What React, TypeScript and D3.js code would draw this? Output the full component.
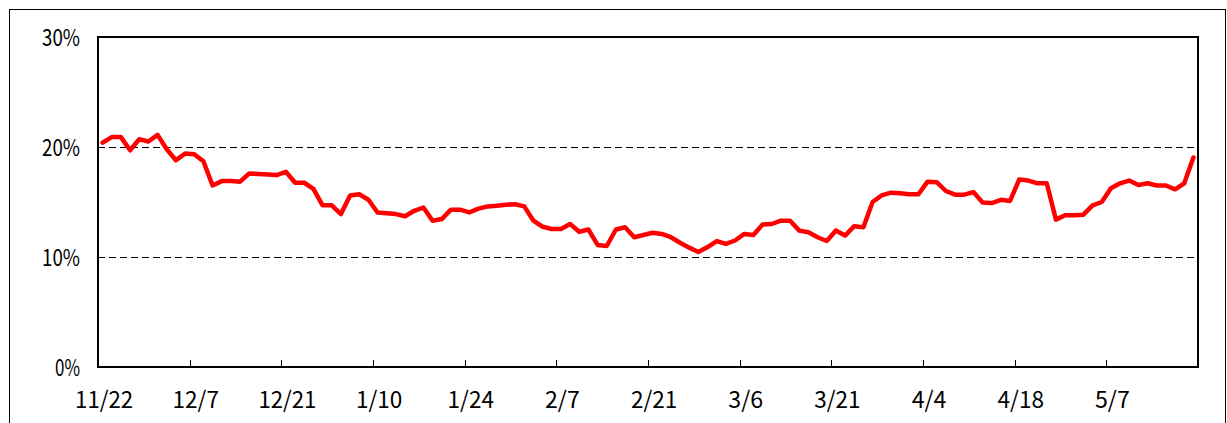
import { useEffect, useRef } from 'react'
import * as d3 from 'd3'

const WIDTH = 1227
const HEIGHT = 423
const PLOT = { left: 98, right: 1198, top: 37, bottom: 367 }

// share values (%), one per trading day, 120 points
const shareValues = [
  20.4, 20.9, 20.9, 19.7, 20.7, 20.5, 21.1, 19.8, 18.8, 19.4,
  19.35, 18.7, 16.5, 16.9, 16.9, 16.85, 17.6, 17.55, 17.5, 17.45,
  17.75, 16.75, 16.75, 16.2, 14.7, 14.7, 13.9, 15.6, 15.7, 15.2,
  14.05, 13.97, 13.9, 13.7, 14.2, 14.5, 13.3, 13.45, 14.3, 14.3,
  14.05, 14.4, 14.6, 14.65, 14.75, 14.8, 14.6, 13.3, 12.75, 12.55,
  12.55, 13.0, 12.3, 12.5, 11.1, 11.0, 12.5, 12.7, 11.8, 12.0,
  12.2, 12.1, 11.8, 11.3, 10.85, 10.45, 10.9, 11.45, 11.2, 11.5,
  12.1, 12.0, 12.95, 13.0, 13.3, 13.3, 12.4, 12.25, 11.8, 11.45,
  12.4, 11.95, 12.8, 12.7, 15.0, 15.6, 15.85, 15.8, 15.7, 15.7,
  16.85, 16.8, 16.0, 15.67, 15.67, 15.9, 14.95, 14.9, 15.2, 15.1,
  17.05, 16.95, 16.7, 16.7, 13.4, 13.8, 13.8, 13.85, 14.7, 15.0,
  16.25, 16.7, 16.95, 16.55, 16.7, 16.5, 16.5, 16.15, 16.7, 19.05,
]

// labels sit on every 10th category
const dateLabels = ['11/22', '12/7', '12/21', '1/10', '1/24', '2/7', '2/21', '3/6', '3/21', '4/4', '4/18', '5/7']
const yTicks = [0, 10, 20, 30]
const gridValues = [10, 20]

const FONT = '"Noto Sans CJK JP", "Liberation Sans", sans-serif'

export default function App() {
  const svgRef = useRef<SVGSVGElement>(null)

  useEffect(() => {
    const svg = d3.select(svgRef.current)
    svg.selectAll('*').remove()

    const categories = shareValues.map((_, i) => i)
    const xScale = d3
      .scaleBand<number>()
      .domain(categories)
      .range([PLOT.left, PLOT.right])
      .padding(0)
    const step = xScale.step()
    const xCenter = (i: number) => (xScale(i) ?? 0) + step / 2

    const yScale = d3.scaleLinear().domain([0, 30]).range([PLOT.bottom, PLOT.top])

    svg.append('rect').attr('width', WIDTH).attr('height', HEIGHT).attr('fill', '#fff')

    // outer frame
    svg
      .append('rect')
      .attr('x', 9.5)
      .attr('y', 9.5)
      .attr('width', 1216)
      .attr('height', 600)
      .attr('fill', 'none')
      .attr('stroke', '#000')
      .attr('stroke-width', 1)

    // dashed grid
    svg
      .append('g')
      .selectAll('line')
      .data(gridValues)
      .join('line')
      .attr('x1', PLOT.left)
      .attr('x2', PLOT.right)
      .attr('y1', (d) => Math.round(yScale(d)) + 0.5)
      .attr('y2', (d) => Math.round(yScale(d)) + 0.5)
      .attr('stroke', '#000')
      .attr('stroke-width', 1)
      .attr('stroke-dasharray', '7 4')

    // tick marks every 10 categories
    const tickCats = d3.range(10, shareValues.length, 10)
    svg
      .append('g')
      .selectAll('line')
      .data(tickCats)
      .join('line')
      .attr('x1', (i) => Math.round(xScale(i) ?? 0) + 0.5)
      .attr('x2', (i) => Math.round(xScale(i) ?? 0) + 0.5)
      .attr('y1', PLOT.bottom)
      .attr('y2', PLOT.bottom - 7)
      .attr('stroke', '#000')
      .attr('stroke-width', 1)

    // plot frame
    svg
      .append('rect')
      .attr('x', PLOT.left)
      .attr('y', PLOT.top)
      .attr('width', PLOT.right - PLOT.left)
      .attr('height', PLOT.bottom - PLOT.top)
      .attr('fill', 'none')
      .attr('stroke', '#000')
      .attr('stroke-width', 2)

    // series
    const line = d3
      .line<number>()
      .x((_, i) => xCenter(i))
      .y((d) => yScale(d))
    svg
      .append('path')
      .datum(shareValues)
      .attr('d', line)
      .attr('fill', 'none')
      .attr('stroke', '#ff0000')
      .attr('stroke-width', 4.5)
      .attr('stroke-linejoin', 'round')
      .attr('stroke-linecap', 'round')

    // y labels
    svg
      .append('g')
      .selectAll('text')
      .data(yTicks)
      .join('text')
      .attr('x', 80)
      .attr('y', (d) => yScale(d) + 8.5)
      .attr('text-anchor', 'end')
      .attr('font-family', FONT)
      .attr('font-size', 23)
      .attr('fill', '#000')
      .attr('textLength', (d) => (d === 0 ? 25 : 38))
      .attr('lengthAdjust', 'spacingAndGlyphs')
      .text((d) => `${d}%`)

    // x labels
    svg
      .append('g')
      .selectAll('text')
      .data(dateLabels)
      .join('text')
      .attr('x', (_, k) => xCenter(k * 10) + 1.5)
      .attr('y', 408)
      .attr('text-anchor', 'middle')
      .attr('font-family', FONT)
      .attr('font-size', 23)
      .attr('fill', '#000')
      .attr('textLength', (d) => d.length * 11.6)
      .attr('lengthAdjust', 'spacingAndGlyphs')
      .text((d) => d)
  }, [])

  return (
    <svg
      ref={svgRef}
      width={WIDTH}
      height={HEIGHT}
      viewBox={`0 0 ${WIDTH} ${HEIGHT}`}
      style={{ position: 'absolute', left: 0, top: 0, display: 'block' }}
    />
  )
}
